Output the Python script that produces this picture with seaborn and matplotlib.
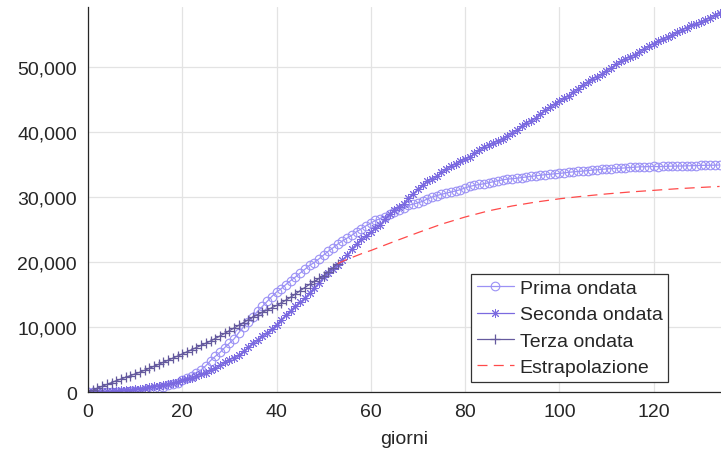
"""Confronto ondate: prima, seconda, terza ed estrapolazione"""

import numpy as np
import pandas as pd
import matplotlib
matplotlib.use('Agg')
import matplotlib.pyplot as plt
import matplotlib.ticker as mticker
import seaborn as sns

# --- data (cumulative values per day) ---
prima_ondata = [
    7, 10, 12, 17, 21, 29, 34, 52, 79, 107,
    148, 197, 233, 366, 463, 631, 827, 1016, 1266, 1441,
    1809, 2158, 2503, 2978, 3405, 4032, 4825, 5476, 6077, 6820,
    7503, 8165, 9134, 10023, 10779, 11591, 12428, 13155, 13915, 14681,
    15362, 15887, 16523, 17127, 17669, 18279, 18849, 19468, 19899, 20465,
    21067, 21645, 22170, 22745, 23227, 23660, 24114, 24648, 25085, 25549,
    25969, 26384, 26644, 26977, 27359, 27682, 27967, 28236, 28710, 28884,
    29079, 29315, 29684, 29958, 30201, 30395, 30560, 30739, 30911, 31106,
    31368, 31610, 31763, 31908, 32007, 32169, 32330, 32486, 32616, 32735,
    32785, 32877, 32955, 33072, 33142, 33229, 33340, 33415, 33475, 33530,
    33601, 33689, 33774, 33846, 33899, 33964, 34043, 34114, 34167, 34223,
    34301, 34345, 34371, 34405, 34448, 34514, 34561, 34610, 34634, 34657,
    34675, 34644, 34678, 34708, 34716, 34738, 34744, 34767, 34788, 34818,
    34833, 34854, 34861, 34869, 34899,
]

seconda_ondata = [
    0, 28, 57, 83, 122, 163, 206, 289, 336, 383,
    452, 525, 614, 741, 877, 968, 1119, 1247, 1362, 1583,
    1788, 2005, 2204, 2501, 2737, 2970, 3323, 3675, 4120, 4548,
    4973, 5304, 5660, 6240, 6863, 7499, 8049, 8593, 9139, 9643,
    10374, 11127, 11826, 12518, 13217, 13779, 14409, 15262, 15984, 16806,
    17633, 18319, 18860, 19532, 20317, 21001, 21994, 22808, 23470, 24034,
    24562, 25196, 25695, 26582, 27343, 27992, 28476, 28967, 29813, 30493,
    31176, 31850, 32403, 32755, 33170, 33798, 34299, 34758, 35019, 35464,
    35769, 36127, 36699, 37187, 37655, 38030, 38307, 38567, 38828, 39390,
    39851, 40265, 40882, 41365, 41726, 42174, 42790, 43297, 43819, 44294,
    44771, 45148, 45525, 46128, 46652, 47173, 47645, 48137, 48436, 48856,
    49397, 49864, 50356, 50833, 51254, 51491, 51820, 52319, 52775, 53196,
    53573, 53958, 54265, 54531, 54953, 55289, 55680, 55996, 56387, 56608,
    56866, 57202, 57549, 57902, 58249,
]

terza_ondata = [
    0, 290, 580, 870, 1160, 1450, 1740, 2000, 2260, 2520,
    2780, 3040, 3340, 3640, 3950, 4260, 4570, 4890, 5210, 5530,
    5850, 6180, 6510, 6840, 7170, 7500, 7840, 8220, 8610, 9010,
    9420, 9840, 10260, 10680, 11100, 11520, 11900, 12260, 12610, 12950,
    13300, 13700, 14130, 14580, 15060, 15560, 16060, 16540, 17000, 17450,
    17900, 18500, 19100, 19750,
]

estrap_giorni = [53, 55, 58, 60, 65, 70, 75, 80, 85, 90, 95, 100, 105, 110, 115, 120, 125, 130, 134]
estrap_valori = [19750, 20400, 21250, 21750, 23150, 24500, 25800, 26900, 27850, 28600,
                 29200, 29700, 30100, 30450, 30750, 31000, 31250, 31450, 31600]

labels = ['Prima ondata', 'Seconda ondata', 'Terza ondata', 'Estrapolazione']

# --- style ---
sns.set_style('whitegrid')
plt.rcParams['font.family'] = ['Liberation Sans', 'DejaVu Sans']
plt.rcParams['font.size'] = 14

c_prima = '#9b91f5'
c_seconda = '#7b6ae0'
c_terza = '#655a9e'
c_estrap = '#ff4a4a'

fig = plt.figure(figsize=(7.21, 4.52), dpi=100)
ax = fig.add_axes([0.122, 0.1305, 0.878, 0.852])

sns.lineplot(x=np.arange(len(prima_ondata)), y=prima_ondata, ax=ax, color=c_prima,
             linewidth=0.9, marker='o', markersize=6.2, markerfacecolor='none',
             markeredgecolor=c_prima, markeredgewidth=0.8, label=labels[0])
sns.lineplot(x=np.arange(len(seconda_ondata)), y=seconda_ondata, ax=ax, color=c_seconda,
             linewidth=0.9, marker=(8, 2, 0), markersize=6.5, markerfacecolor=c_seconda,
             markeredgecolor=c_seconda, markeredgewidth=0.7, label=labels[1])
sns.lineplot(x=np.arange(len(terza_ondata)), y=terza_ondata, ax=ax, color=c_terza,
             linewidth=0.9, marker='+', markersize=7, markeredgecolor=c_terza,
             markeredgewidth=0.9, label=labels[2])
sns.lineplot(x=estrap_giorni, y=estrap_valori, ax=ax, color=c_estrap,
             linewidth=0.9, linestyle=(0, (8, 5)), label=labels[3])

ax.set_xlim(0, 134.3)
ax.set_ylim(0, 59200)
ax.set_xticks([0, 20, 40, 60, 80, 100, 120])
ax.set_yticks([0, 10000, 20000, 30000, 40000, 50000])
ax.yaxis.set_major_formatter(mticker.StrMethodFormatter('{x:,.0f}'))

ax.grid(True, color='#e3e3e3', linewidth=0.9)
ax.set_axisbelow(True)
for side in ['top', 'right']:
    ax.spines[side].set_visible(False)
for side in ['left', 'bottom']:
    ax.spines[side].set_color('#262626')
    ax.spines[side].set_linewidth(0.9)
ax.tick_params(direction='in', length=5, width=0.9, color='#262626',
               labelcolor='#262626', labelsize=14, pad=8)

ax.set_xlabel('giorni', fontsize=14, color='#262626', labelpad=7)
ax.set_ylabel('')

leg = ax.legend(loc='lower left', bbox_to_anchor=(0.605, 0.026), fontsize=14,
                frameon=True, fancybox=False, framealpha=1, edgecolor='#333333',
                handlelength=1.9, handletextpad=0.3, labelspacing=0.45,
                borderpad=0.3, borderaxespad=0)
leg.get_frame().set_linewidth(0.9)

fig.savefig('out.png', dpi=100)
